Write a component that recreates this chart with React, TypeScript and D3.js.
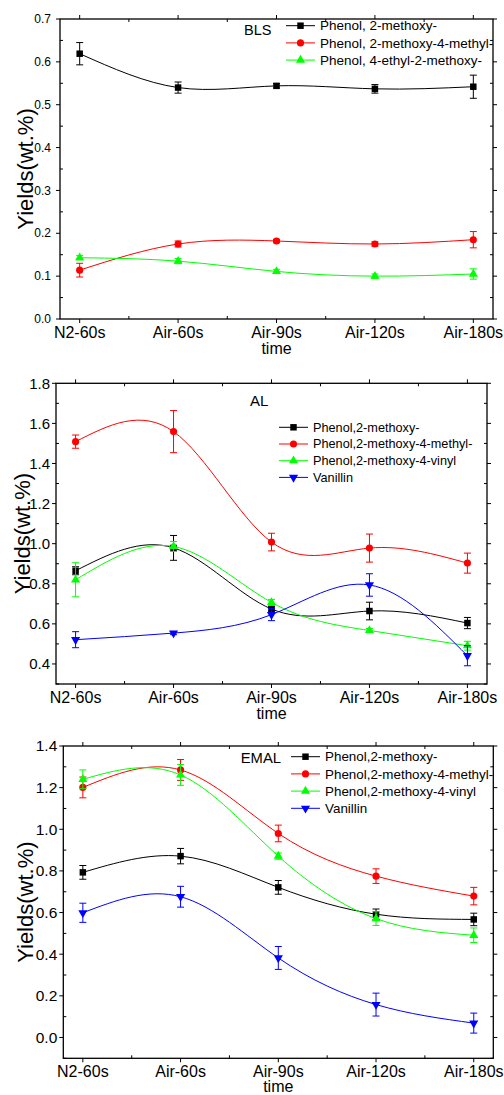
import React from 'react';
import * as d3 from 'd3';

const categories = ['N2-60s', 'Air-60s', 'Air-90s', 'Air-120s', 'Air-180s'];

// BLS panel
const blsNames = ['Phenol, 2-methoxy-', 'Phenol, 2-methoxy-4-methyl-', 'Phenol, 4-ethyl-2-methoxy-'];
const blsGuaiacol = [0.619, 0.540, 0.544, 0.537, 0.542];
const blsGuaiacolErr = [0.026, 0.013, 0.005, 0.010, 0.027];
const blsMethyl = [0.114, 0.175, 0.182, 0.175, 0.185];
const blsMethylErr = [0.016, 0.007, 0.004, 0.005, 0.019];
const blsEthyl = [0.143, 0.135, 0.111, 0.100, 0.105];
const blsEthylErr = [0.005, 0.006, 0.005, 0.005, 0.012];
const blsTicks = [0, 0.1, 0.2, 0.3, 0.4, 0.5, 0.6, 0.7];

// AL panel
const alNames = ['Phenol,2-methoxy-', 'Phenol,2-methoxy-4-methyl-', 'Phenol,2-methoxy-4-vinyl', 'Vanillin'];
const alGuaiacol = [0.865, 0.979, 0.674, 0.664, 0.604];
const alGuaiacolErr = [0.02, 0.062, 0.01, 0.044, 0.028];
const alMethyl = [1.509, 1.559, 1.008, 0.978, 0.903];
const alMethylErr = [0.033, 0.105, 0.044, 0.07, 0.05];
const alVinyl = [0.820, 0.986, 0.707, 0.567, 0.491];
const alVinylErr = [0.085, 0.025, 0.015, 0.01, 0.022];
const alVanillin = [0.521, 0.554, 0.646, 0.794, 0.441];
const alVanillinErr = [0.04, 0.008, 0.03, 0.056, 0.05];
const alTicks = [0.4, 0.6, 0.8, 1.0, 1.2, 1.4, 1.6, 1.8];

// EMAL panel
const emalNames = ['Phenol,2-methoxy-', 'Phenol,2-methoxy-4-methyl-', 'Phenol,2-methoxy-4-vinyl', 'Vanillin'];
const emalGuaiacol = [0.793, 0.871, 0.721, 0.592, 0.567];
const emalGuaiacolErr = [0.033, 0.037, 0.033, 0.025, 0.03];
const emalMethyl = [1.201, 1.285, 0.980, 0.775, 0.679];
const emalMethylErr = [0.05, 0.05, 0.04, 0.035, 0.042];
const emalVinyl = [1.240, 1.261, 0.871, 0.571, 0.491];
const emalVinylErr = [0.045, 0.05, 0.015, 0.033, 0.035];
const emalVanillin = [0.599, 0.676, 0.382, 0.158, 0.069];
const emalVanillinErr = [0.046, 0.05, 0.055, 0.055, 0.048];
const emalTicks = [0, 0.2, 0.4, 0.6, 0.8, 1.0, 1.2, 1.4];

const colors = ['#000000', '#ff0000', '#00ff00', '#0000ff'];
const shapes = ['square', 'circle', 'up', 'down'];

const FONT = '"Liberation Sans", Arial, sans-serif';

const markerPath = (shape: string) => {
  if (shape === 'square') return d3.symbol().type(d3.symbolSquare).size(42)();
  if (shape === 'circle') return d3.symbol().type(d3.symbolCircle).size(40)();
  return d3.symbol().type(d3.symbolTriangle).size(36)();
};

const Marker = ({ shape, x, y, color }) => (
  <path
    d={markerPath(shape) as string}
    transform={`translate(${x},${y})${shape === 'down' ? ' rotate(180)' : ''}`}
    fill={color}
  />
);

const Panel = ({ cfg, names, values, errors, ticks }) => {
  const x = d3.scaleLinear().domain([-0.2, categories.length - 1 + 0.2]).range([cfg.left, cfg.right]);
  const y = d3.scaleLinear().domain(cfg.yDomain).range([cfg.bottom, cfg.top]);
  const step = ticks[1] - ticks[0];
  const minors = d3.range(cfg.yDomain[0], cfg.yDomain[1] + 1e-9, step / 2)
    .filter(v => !ticks.some(t => Math.abs(t - v) < 1e-6));
  const xMinors = d3.range(0.5, categories.length - 1, 1);
  const line = d3.line<number>().x((d, i) => x(i)).y(d => y(d)).curve(d3.curveNatural);
  const fmt = d3.format('.1f');
  const major = 4, minor = 3;

  return (
    <g fontFamily={FONT}>
      {/* curves */}
      {values.map((vals, s) => (
        <path key={'l' + s} d={line(vals) as string} fill="none" stroke={colors[s]} strokeWidth={1} />
      ))}
      {/* error bars and markers */}
      {values.map((vals, s) => (
        <g key={'m' + s}>
          {vals.map((v, i) => {
            const e = errors[s][i];
            const cx = x(i);
            return (
              <g key={i} stroke={colors[s]} strokeWidth={1}>
                <line x1={cx} x2={cx} y1={y(v - e)} y2={y(v + e)} />
                <line x1={cx - 3.5} x2={cx + 3.5} y1={y(v - e)} y2={y(v - e)} />
                <line x1={cx - 3.5} x2={cx + 3.5} y1={y(v + e)} y2={y(v + e)} />
              </g>
            );
          })}
          {vals.map((v, i) => (
            <Marker key={i} shape={shapes[s]} x={x(i)} y={y(v)} color={colors[s]} />
          ))}
        </g>
      ))}

      {/* frame */}
      <rect x={cfg.left} y={cfg.top} width={cfg.right - cfg.left} height={cfg.bottom - cfg.top}
        fill="none" stroke="#000" strokeWidth={1.3} />

      {/* y ticks */}
      {ticks.map(t => (
        <g key={'yt' + t} stroke="#000" strokeWidth={1}>
          <line x1={cfg.left - major} x2={cfg.left} y1={y(t)} y2={y(t)} />
          <line x1={cfg.right} x2={cfg.right + major} y1={y(t)} y2={y(t)} />
        </g>
      ))}
      {minors.map(t => (
        <g key={'ym' + t} stroke="#000" strokeWidth={1}>
          <line x1={cfg.left} x2={cfg.left + minor} y1={y(t)} y2={y(t)} />
          <line x1={cfg.right - minor} x2={cfg.right} y1={y(t)} y2={y(t)} />
        </g>
      ))}
      {ticks.map(t => (
        <text key={'yl' + t} x={cfg.left - cfg.yLabelGap} y={y(t)} dy="0.35em" textAnchor="end"
          fontSize={cfg.yFont} fill="#000">{fmt(t)}</text>
      ))}

      {/* x ticks */}
      {categories.map((c, i) => (
        <g key={'xt' + i} stroke="#000" strokeWidth={1}>
          <line x1={x(i)} x2={x(i)} y1={cfg.bottom} y2={cfg.bottom + major} />
          <line x1={x(i)} x2={x(i)} y1={cfg.top - major} y2={cfg.top} />
        </g>
      ))}
      {xMinors.map(m => (
        <g key={'xm' + m} stroke="#000" strokeWidth={1}>
          <line x1={x(m)} x2={x(m)} y1={cfg.bottom - minor} y2={cfg.bottom} />
          <line x1={x(m)} x2={x(m)} y1={cfg.top} y2={cfg.top + minor} />
        </g>
      ))}
      {categories.map((c, i) => (
        <text key={'xl' + i} x={x(i)} y={cfg.bottom + cfg.xLabelGap} textAnchor="middle"
          fontSize={16} fill="#000">{c}</text>
      ))}
      <text x={(cfg.left + cfg.right) / 2} y={cfg.bottom + cfg.xLabelGap + cfg.timeGap} textAnchor="middle"
        fontSize={16} fill="#000">time</text>

      {/* y title */}
      <text transform={`translate(${cfg.yTitleX},${(cfg.top + cfg.bottom) / 2}) rotate(-90)`}
        textAnchor="middle" fontSize={22} fill="#000">Yields(wt.%)</text>

      {/* panel tag */}
      <text x={cfg.tagX} y={cfg.tagY} fontSize={cfg.tagFont} fill="#000">{cfg.tag}</text>

      {/* legend */}
      {names.map((n, s) => {
        const ly = cfg.legendTop + s * cfg.legendStep;
        return (
          <g key={'lg' + s}>
            <line x1={cfg.legendX} x2={cfg.legendX + 29} y1={ly} y2={ly} stroke={colors[s]} strokeWidth={1} />
            <Marker shape={shapes[s]} x={cfg.legendX + 14.5} y={ly} color={colors[s]} />
            <text x={cfg.legendX + 34} y={ly} dy="0.35em" fontSize={cfg.legendFont} fill="#000">{n}</text>
          </g>
        );
      })}
    </g>
  );
};

const blsCfg = {
  left: 60, right: 493, top: 19, bottom: 319, yDomain: [0, 0.7], yFont: 12, yLabelGap: 9,
  xLabelGap: 19, timeGap: 16, yTitleX: 33, tag: 'BLS', tagX: 244, tagY: 35, tagFont: 14.5,
  legendX: 286, legendTop: 25.7, legendStep: 17.2, legendFont: 13.5,
};
const alCfg = {
  left: 56, right: 487, top: 383.3, bottom: 684, yDomain: [0.3, 1.8], yFont: 15, yLabelGap: 6,
  xLabelGap: 19, timeGap: 16, yTitleX: 30, tag: 'AL', tagX: 250, tagY: 405.7, tagFont: 15,
  legendX: 279, legendTop: 427.3, legendStep: 16.7, legendFont: 12.7,
};
const emalCfg = {
  left: 63.3, right: 493.3, top: 746, bottom: 1058.3, yDomain: [-0.1, 1.4], yFont: 15.5, yLabelGap: 6,
  xLabelGap: 18.5, timeGap: 15.5, yTitleX: 33, tag: 'EMAL', tagX: 240.7, tagY: 763.3, tagFont: 14.8,
  legendX: 291, legendTop: 756.7, legendStep: 17.2, legendFont: 13.4,
};

export default function App() {
  return (
    <svg width={504} height={1095} style={{ position: 'absolute', left: 0, top: 0, display: 'block', background: '#fff' }}>
      <Panel cfg={blsCfg} names={blsNames}
        values={[blsGuaiacol, blsMethyl, blsEthyl]}
        errors={[blsGuaiacolErr, blsMethylErr, blsEthylErr]} ticks={blsTicks} />
      <Panel cfg={alCfg} names={alNames}
        values={[alGuaiacol, alMethyl, alVinyl, alVanillin]}
        errors={[alGuaiacolErr, alMethylErr, alVinylErr, alVanillinErr]} ticks={alTicks} />
      <Panel cfg={emalCfg} names={emalNames}
        values={[emalGuaiacol, emalMethyl, emalVinyl, emalVanillin]}
        errors={[emalGuaiacolErr, emalMethylErr, emalVinylErr, emalVanillinErr]} ticks={emalTicks} />
    </svg>
  );
}
